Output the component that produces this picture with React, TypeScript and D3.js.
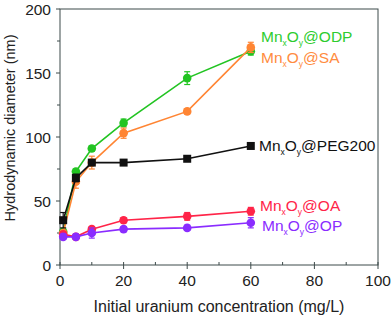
import React from 'react';
import { scaleLinear, line, range } from 'd3';

const conc = [1, 5, 10, 20, 40, 60];
const odp = [26, 73, 91, 111, 146, 167];
const odpErr = [2, 2, 2, 3, 5, 3];
const sa = [25, 65, 80, 103, 120, 170];
const saErr = [2, 5, 5, 4, 2, 4];
const peg = [35, 68, 80, 80, 83, 93];
const pegErr = [6, 3, 2, 1, 1, 1];
const oa = [24, 22, 28, 35, 38, 42];
const oaErr = [2, 2, 2, 2, 3, 3];
const op = [22, 22, 25, 28, 29, 33];
const opErr = [2, 2, 4, 2, 2, 4];

const xTicks = [0, 20, 40, 60, 80, 100];
const yTicks = [0, 50, 100, 150, 200];

const series = [
  { name: 'ODP', vals: odp, err: odpErr, color: '#22c422', text: '#2ecc2e', ly: 42, lx: 261, shape: 'circle' },
  { name: 'SA', vals: sa, err: saErr, color: '#ff8533', text: '#ff8c40', ly: 63, lx: 261, shape: 'circle' },
  { name: 'PEG200', vals: peg, err: pegErr, color: '#111111', text: '#111111', ly: 151, lx: 259, shape: 'square' },
  { name: 'OA', vals: oa, err: oaErr, color: '#ff2448', text: '#ff2448', ly: 211, lx: 260, shape: 'circle' },
  { name: 'OP', vals: op, err: opErr, color: '#8a2cff', text: '#8a2cff', ly: 231, lx: 262, shape: 'circle' },
];

const App: React.FC = () => {
  const x = scaleLinear().domain([0, 100]).range([60, 378]);
  const y = scaleLinear().domain([0, 200]).range([265, 9]);
  const font = 'Liberation Sans, Arial, sans-serif';
  const axisColor = '#3d4a4a';

  return (
    <svg width={392} height={317} style={{ position: 'absolute', left: 0, top: 0 }} fontFamily={font}>
      <rect x={60} y={9} width={318} height={256} fill="none" stroke={axisColor} strokeWidth={1} />
      {range(0, 101, 10).map(t => (
        <line key={'xt' + t} x1={x(t)} x2={x(t)} y1={262} y2={t % 20 === 0 ? 269 : 265} stroke={axisColor} />
      ))}
      {range(0, 201, 25).map(t => (
        <line key={'yt' + t} x1={t % 50 === 0 ? 56 : 57} x2={60} y1={y(t)} y2={y(t)} stroke={axisColor} />
      ))}
      {xTicks.map(t => (
        <text key={'xl' + t} x={x(t)} y={286} fontSize={15.5} textAnchor="middle" fill="#222">{t}</text>
      ))}
      {yTicks.map(t => (
        <text key={'yl' + t} x={51} y={y(t) + 5.5} fontSize={15.5} textAnchor="end" fill="#222">{t}</text>
      ))}
      <text x={219} y={312} fontSize={16} textAnchor="middle" fill="#222">Initial uranium concentration (mg/L)</text>
      <text transform="translate(15,128) rotate(-90)" fontSize={14.5} textAnchor="middle" fill="#222">Hydrodynamic diameter (nm)</text>

      {series.map(s => {
        const path = line<number>().x((_, i) => x(conc[i])).y(d => y(d))(s.vals) || '';
        return (
          <g key={s.name}>
            <path d={path} fill="none" stroke={s.color} strokeWidth={1.6} />
            {s.vals.map((v, i) => (
              <g key={i}>
                <line x1={x(conc[i])} x2={x(conc[i])} y1={y(v - s.err[i])} y2={y(v + s.err[i])} stroke={s.color} strokeWidth={1.2} />
                <line x1={x(conc[i]) - 3} x2={x(conc[i]) + 3} y1={y(v - s.err[i])} y2={y(v - s.err[i])} stroke={s.color} strokeWidth={1.2} />
                <line x1={x(conc[i]) - 3} x2={x(conc[i]) + 3} y1={y(v + s.err[i])} y2={y(v + s.err[i])} stroke={s.color} strokeWidth={1.2} />
                {s.shape === 'square' ? (
                  <rect x={x(conc[i]) - 4} y={y(v) - 4} width={8} height={8} fill={s.color} />
                ) : (
                  <circle cx={x(conc[i])} cy={y(v)} r={4.3} fill={s.color} />
                )}
              </g>
            ))}
            <text x={s.lx} y={s.ly} fontSize={15.5} fill={s.text}>
              Mn<tspan fontSize={8.5} dy={4}>x</tspan><tspan dy={-4}>O</tspan><tspan fontSize={8.5} dy={4}>y</tspan><tspan dy={-4}>@{s.name}</tspan>
            </text>
          </g>
        );
      })}
    </svg>
  );
};

export default App;
